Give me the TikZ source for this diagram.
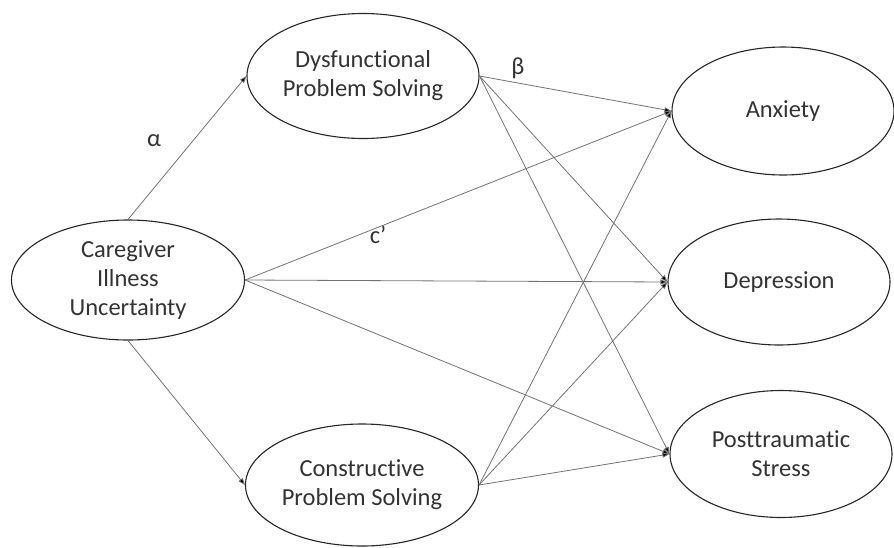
\documentclass[tikz,border=0pt]{standalone}
\usepackage{fontspec}
\setmainfont[Ligatures=NoCommon]{Carlito}
\usetikzlibrary{arrows.meta,shapes.geometric}
\begin{document}
\begin{tikzpicture}[x=1pt,y=-1pt,
  lat/.style={draw=black!85,line width=1.1pt,ellipse,inner sep=0pt,align=center,
     font=\fontsize{24.5}{29}\selectfont,text=black!80},
  path/.style={draw=black!55,line width=0.8pt,-{Triangle[length=7pt,width=5pt,fill=black]}},
  lbl/.style={font=\fontsize{24.5}{29}\selectfont,text=black!80}]
\useasboundingbox (0,0) rectangle (894,547);
\node[lat,minimum width=233pt,minimum height=120pt] (cu) at (128,280) {Caregiver\\Illness\\Uncertainty};
\node[lat,minimum width=232pt,minimum height=125pt] (dps) at (363,76) {Dysfunctional\\Problem Solving};
\node[lat,minimum width=233pt,minimum height=122pt] (cps) at (362,485) {Constructive\\Problem Solving};
\node[lat,minimum width=222pt,minimum height=128pt] (anx) at (783,111) {Anxiety};
\node[lat,minimum width=222pt,minimum height=126pt] (dep) at (779,282) {Depression};
\node[lat,minimum width=222pt,minimum height=127pt] (pts) at (781,454) {Posttraumatic\\Stress};
\draw[path] (cu.north) -- (dps.west);
\draw[path] (cu.south) -- (cps.west);
\foreach \s in {dps,cu,cps}{
  \foreach \t in {anx,dep,pts}{
    \draw[path] (\s.east) -- (\t.west);
  }
}
\node[lbl] (a) at (154,141) {α};
\node[lbl] (c) at (378,235) {c’};
\node[lbl] (b) at (518,68) {β};
\end{tikzpicture}
\end{document}
